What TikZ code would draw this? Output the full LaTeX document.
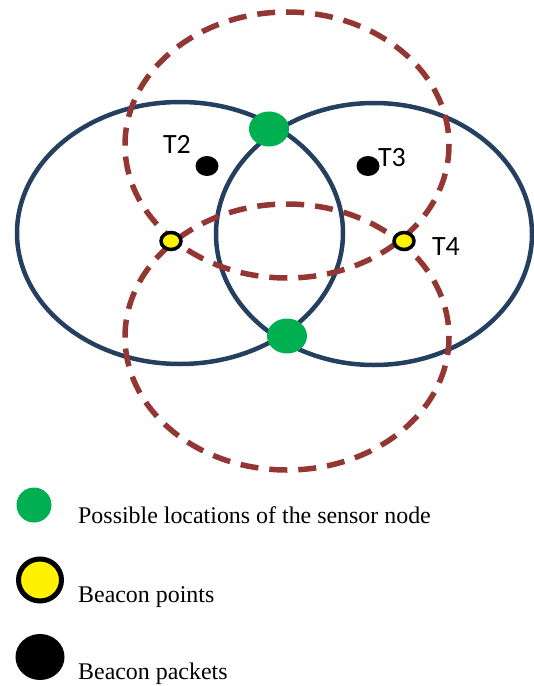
\documentclass[tikz,border=0pt]{standalone}
\usepackage{fontspec}
\setmainfont{Liberation Serif}
\newfontfamily\tagfont{Carlito}
\usetikzlibrary{shapes.geometric}
\definecolor{rangeblue}{HTML}{243F60}
\definecolor{rangered}{HTML}{943634}
\definecolor{locgreen}{HTML}{00B050}
\begin{document}
\begin{tikzpicture}[
    x=1bp, y=-1bp,
    anchorrange/.style={draw=rangeblue, line width=4.5bp},
    beaconrange/.style={draw=rangered, line width=5.5bp, dash pattern=on 18bp off 11bp},
    locdot/.style={ellipse, fill=locgreen, inner sep=0pt, minimum width=40bp, minimum height=35bp},
    beacondot/.style={ellipse, draw=black, line width=3.5bp, fill=yellow, inner sep=0pt, minimum width=20bp, minimum height=17bp},
    packetdot/.style={ellipse, fill=black, inner sep=0pt, minimum width=23bp, minimum height=20bp},
    tagtext/.style={font=\tagfont\fontsize{28}{32}\selectfont, inner sep=0pt},
    legendtext/.style={anchor=base west, font=\fontsize{24}{28}\selectfont, inner sep=0pt}
]
\useasboundingbox (0,0) rectangle (534,686);

% Ranges of the anchors
\draw[anchorrange] (180,233) ellipse [x radius=163, y radius=131];
\draw[anchorrange] (374,234) ellipse [x radius=158, y radius=131];

% Ranges of the beacon points
\draw[beaconrange] (287,145) ellipse [x radius=162, y radius=133];
\draw[beaconrange] (287,337) ellipse [x radius=162, y radius=133];

% Possible locations
\node[locdot] (loc1) at (269,129) {};
\node[locdot] (loc2) at (287,336) {};

% Beacon points
\node[beacondot] (bp1) at (171,241) {};
\node[beacondot] (bp2) at (404,241) {};

% Beacon packets
\node[packetdot] (t2) at (207,166) {};
\node[packetdot] (t3) at (368,166) {};

% Labels
\node[tagtext] (t2label) at (177,144) {T2};
\node[tagtext] (t3label) at (392,158) {T3};
\node[tagtext] (t4label) at (446,247) {T4};

% Legend
\node[locdot, minimum width=35bp, minimum height=35bp] (keyloc) at (34,505) {};
\node[beacondot, line width=5bp, minimum width=43bp, minimum height=42bp] (keypoint) at (40,580) {};
\node[packetdot, minimum width=49bp, minimum height=46bp] (keypacket) at (40,657) {};
\node[legendtext] (keyloctext) at (78,523) {Possible locations of the sensor node};
\node[legendtext] (keypointtext) at (78,602) {Beacon points};
\node[legendtext] (keypackettext) at (78,679) {Beacon packets};

\end{tikzpicture}
\end{document}
